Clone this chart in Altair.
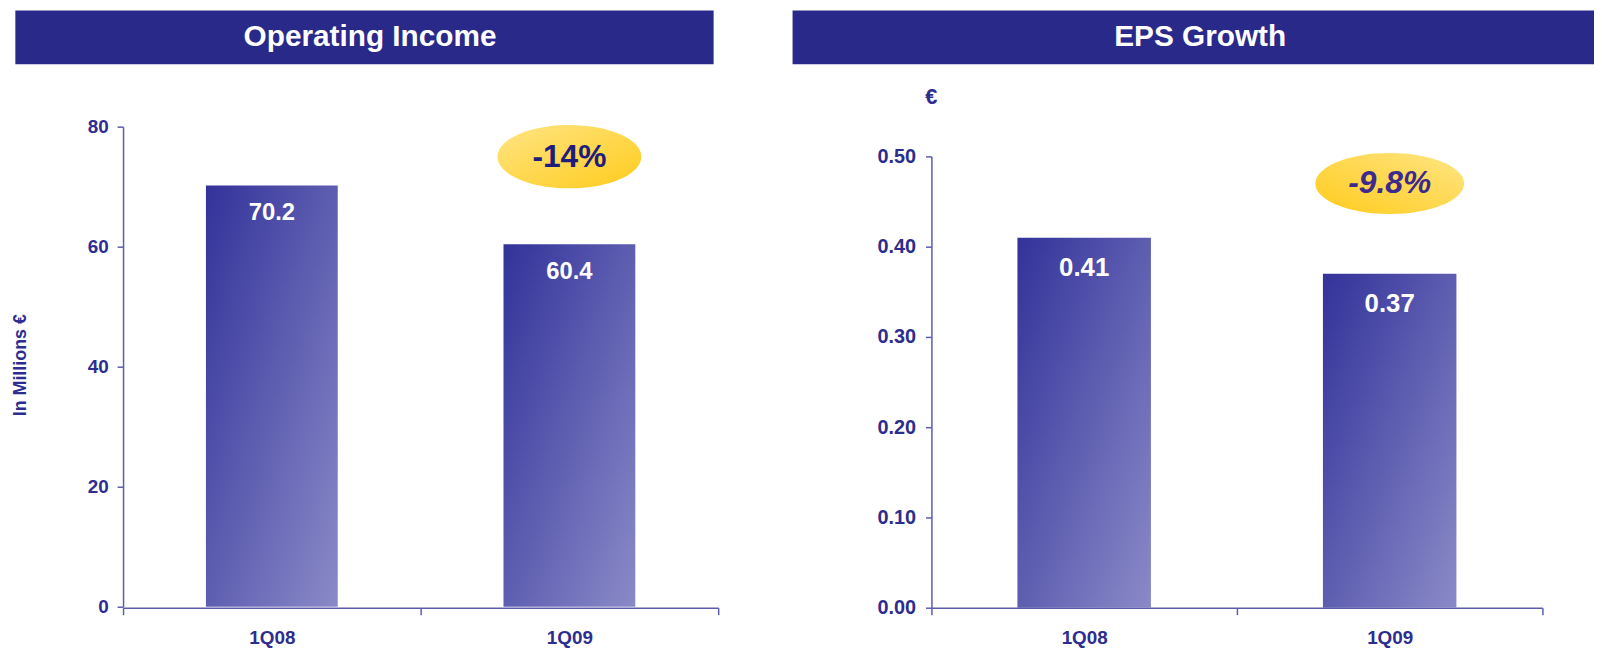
import altair as alt
import pandas as pd

# ---- data ----
quarters = ["1Q08", "1Q09"]
operating_income = [70.2, 60.4]
eps = [0.41, 0.37]
income_ticks = [0, 20, 40, 60, 80]
eps_ticks = [0.0, 0.1, 0.2, 0.3, 0.4, 0.5]
income_change = ["-14%"]
eps_change = ["-9.8%"]
panel_titles = ["Operating Income", "EPS Growth"]

FONT = "Liberation Sans"
NAVY = "#2D2D8F"
AXIS = "#5C5CAE"
BANNER = "#29298A"


def ellipse(r):
    k = 0.5523
    return (f"M -1 0 C -1 {-r*k:.4f} {-k} {-r} 0 {-r} "
            f"C {k} {-r} 1 {-r*k:.4f} 1 0 "
            f"C 1 {r*k:.4f} {k} {r} 0 {r} "
            f"C {-k} {r} -1 {r*k:.4f} -1 0 Z")


bar_grad = alt.Gradient(
    gradient="linear",
    stops=[alt.GradientStop(color="#32329A", offset=0),
           alt.GradientStop(color="#8A8AC8", offset=1)],
    x1=0, y1=0, x2=1, y2=1)

badge_grad_l = alt.Gradient(
    gradient="linear",
    stops=[alt.GradientStop(color="#FFE584", offset=0),
           alt.GradientStop(color="#FFCB1C", offset=1)],
    x1=0, y1=0, x2=1, y2=1)

badge_grad_r = alt.Gradient(
    gradient="linear",
    stops=[alt.GradientStop(color="#FFE584", offset=0),
           alt.GradientStop(color="#FFCB1C", offset=1)],
    x1=1, y1=0, x2=0, y2=1)


def x_enc():
    return alt.X(
        "q:N", sort=quarters,
        scale=alt.Scale(paddingInner=0, paddingOuter=0),
        axis=alt.Axis(title=None, labelAngle=0, labelFont=FONT, labelFontSize=19,
                      labelFontWeight="bold", labelColor=NAVY, domainColor=AXIS,
                      domainWidth=1.5, tickColor=AXIS, tickWidth=1.5, tickSize=7,
                      tickBand="extent", labelPadding=14))


H = 485  # shared plot height (both panels start at the same top)

# ---- left panel ----
W1 = 600
inc_df = pd.DataFrame({"q": quarters, "v": operating_income})
y1 = alt.Y("v:Q", scale=alt.Scale(domain=[0, 80], range=[484, 0]),
           axis=alt.Axis(values=income_ticks, format="d", grid=False,
                         title="In Millions €", titleFont=FONT, titleFontSize=18,
                         titleFontWeight="bold", titleColor=NAVY, titleX=-103,
                         titleY=240, titleAngle=-90, titleAlign="center",
                         titleBaseline="middle", labelFont=FONT, labelFontSize=19,
                         labelFontWeight="bold", labelColor=NAVY, labelPadding=9,
                         tickSize=6, tickColor=AXIS, tickWidth=1.5,
                         domainColor=AXIS, domainWidth=1.5))

bars1 = alt.Chart(inc_df).mark_bar(color=bar_grad, width=alt.RelativeBandSize(0.443)).encode(
    x=x_enc(), y=y1)
vals1 = alt.Chart(inc_df).mark_text(color="white", font=FONT, fontSize=24,
                                    fontWeight="bold", baseline="middle", dy=28).encode(
    x=x_enc(), y="v:Q", text=alt.Text("v:Q", format=".1f"))

badge1_df = pd.DataFrame({"q": ["1Q09"], "t": income_change})
badge1 = alt.Chart(badge1_df).mark_point(
    shape=ellipse(0.44), size=145 ** 2, filled=True, fill=badge_grad_l,
    opacity=1, strokeWidth=0).encode(x=x_enc(), y=alt.datum(75))
badge1_t = alt.Chart(badge1_df).mark_text(
    font=FONT, fontSize=32, fontWeight="bold", color="#1E1C7C",
    baseline="middle").encode(x=x_enc(), y=alt.datum(75), text="t:N")

ban1_df = pd.DataFrame({"t": [panel_titles[0]]})
ban1 = alt.Chart(ban1_df).mark_rect(color=BANNER).encode(
    x=alt.value(-108.6), x2=alt.value(595.4), y=alt.value(-117), y2=alt.value(-63))
ban1_t = alt.Chart(ban1_df).mark_text(
    font=FONT, fontSize=30, fontWeight="bold", color="white",
    baseline="middle").encode(x=alt.value(249), y=alt.value(-90), text="t:N")

left = alt.layer(ban1, ban1_t, bars1, vals1, badge1, badge1_t).properties(
    width=W1, height=H)

# ---- right panel ----
W2 = 616
eps_df = pd.DataFrame({"q": quarters, "v": eps})
y2 = alt.Y("v:Q", scale=alt.Scale(domain=[0, 0.5], range=[485, 30]),
           axis=alt.Axis(values=eps_ticks, format=".2f", grid=False, title=None,
                         labelFont=FONT, labelFontSize=20, labelFontWeight="bold",
                         labelColor=NAVY, labelPadding=10, tickSize=6,
                         tickColor=AXIS, tickWidth=1.5, domainColor=AXIS,
                         domainWidth=1.5))

bars2 = alt.Chart(eps_df).mark_bar(color=bar_grad, width=alt.RelativeBandSize(0.437)).encode(
    x=x_enc(), y=y2)
vals2 = alt.Chart(eps_df).mark_text(color="white", font=FONT, fontSize=26,
                                    fontWeight="bold", baseline="middle", dy=31).encode(
    x=x_enc(), y="v:Q", text=alt.Text("v:Q", format=".2f"))

badge2_df = pd.DataFrame({"q": ["1Q09"], "t": eps_change})
badge2 = alt.Chart(badge2_df).mark_point(
    shape=ellipse(0.41), size=150 ** 2, filled=True, fill=badge_grad_r,
    opacity=1, strokeWidth=0).encode(x=x_enc(), y=alt.datum(0.47))
badge2_t = alt.Chart(badge2_df).mark_text(
    font=FONT, fontSize=32, fontWeight="bold", fontStyle="italic",
    color="#3E2A8C", baseline="middle").encode(
    x=x_enc(), y=alt.datum(0.47), text="t:N")

ban2_df = pd.DataFrame({"t": [panel_titles[1]], "u": ["€"]})
ban2 = alt.Chart(ban2_df).mark_rect(color=BANNER).encode(
    x=alt.value(-140), x2=alt.value(668), y=alt.value(-117), y2=alt.value(-63))
ban2_t = alt.Chart(ban2_df).mark_text(
    font=FONT, fontSize=30, fontWeight="bold", color="white",
    baseline="middle").encode(x=alt.value(271), y=alt.value(-90), text="t:N")
unit2 = alt.Chart(ban2_df).mark_text(
    font=FONT, fontSize=22, fontWeight="bold", color=NAVY,
    baseline="middle").encode(x=alt.value(0), y=alt.value(-30), text="u:N")

right = alt.layer(ban2, ban2_t, unit2, bars2, vals2, badge2, badge2_t).properties(
    width=W2, height=H)

chart = alt.hconcat(left, right, spacing=74,
                    padding={"left": 4, "top": 0, "right": 0, "bottom": 0},
                    background="white").configure_view(stroke=None, strokeWidth=0)

chart.save("out.html", embed_options={"renderer": "svg", "actions": False})
